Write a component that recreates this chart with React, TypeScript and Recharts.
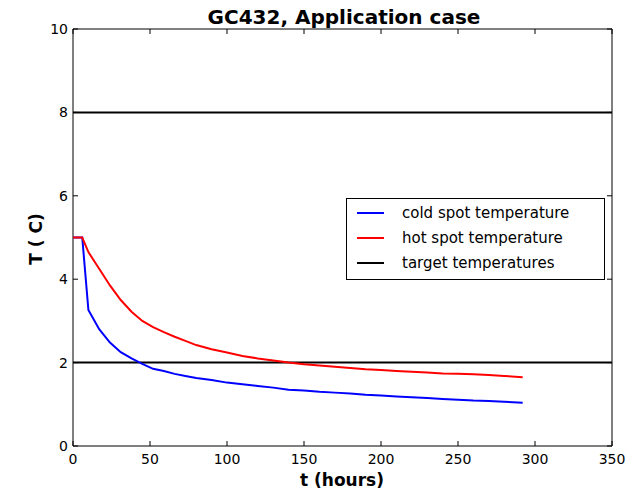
import {
  LineChart,
  Line,
  XAxis,
  YAxis,
  ReferenceLine,
  ReferenceArea,
} from "recharts";

const hours = [
  0, 6, 10, 17, 24, 31, 38, 45, 52, 59, 66, 73, 80, 90, 100, 110, 120, 130, 140,
  150, 160, 170, 180, 190, 200, 210, 220, 230, 240, 250, 260, 270, 280, 292,
];
const coldSpot = [
  5.0, 5.0, 3.26, 2.8, 2.48, 2.25, 2.1, 1.97, 1.85, 1.8, 1.73, 1.68, 1.63, 1.58,
  1.52, 1.48, 1.44, 1.4, 1.35, 1.33, 1.3, 1.28, 1.26, 1.23, 1.21, 1.19, 1.17,
  1.15, 1.13, 1.11, 1.09, 1.08, 1.06, 1.04,
];
const hotSpot = [
  5.0, 5.0, 4.65, 4.25, 3.85, 3.5, 3.22, 3.0, 2.85, 2.73, 2.62, 2.52, 2.42, 2.32,
  2.24, 2.16, 2.1, 2.05, 2.0, 1.96, 1.93, 1.9, 1.87, 1.84, 1.82, 1.8, 1.78, 1.76,
  1.74, 1.73, 1.72, 1.7, 1.68, 1.65,
];
const targets = [2, 8];
const xTicks = [0, 50, 100, 150, 200, 250, 300, 350];
const yTicks = [0, 2, 4, 6, 8, 10];

const legendItems = [
  { label: "cold spot temperature", color: "#0000ff" },
  { label: "hot spot temperature", color: "#ff0000" },
  { label: "target temperatures", color: "#000000" },
];

const FONT = "'DejaVu Sans', sans-serif";
const W = 629;
const H = 491;
const TOP = 29;
const LEFT = 73;
const RIGHT = 612;
const BOTTOM = 446;

const data = hours.map((t, i) => ({ t, cold: coldSpot[i], hot: hotSpot[i] }));

// matplotlib classic: ticks point inward, on all four sides
function XTick(props: any) {
  const { x, payload } = props;
  return (
    <g>
      <line x1={x} y1={BOTTOM} x2={x} y2={BOTTOM - 5} stroke="#000" />
      <line x1={x} y1={TOP} x2={x} y2={TOP + 5} stroke="#000" />
      <text x={x} y={BOTTOM + 18} textAnchor="middle" fontSize={14} fontFamily={FONT} fill="#000">
        {payload.value}
      </text>
    </g>
  );
}

function YTick(props: any) {
  const { y, payload } = props;
  return (
    <g>
      <line x1={LEFT} y1={y} x2={LEFT + 5} y2={y} stroke="#000" />
      <line x1={RIGHT} y1={y} x2={RIGHT - 5} y2={y} stroke="#000" />
      <text x={LEFT - 5} y={y + 5} textAnchor="end" fontSize={14} fontFamily={FONT} fill="#000">
        {payload.value}
      </text>
    </g>
  );
}

function LegendBox() {
  return (
    <div
      style={{
        position: "absolute",
        left: 346,
        top: 198,
        border: "1px solid #000",
        background: "#fff",
        width: 259,
        height: 82,
        boxSizing: "border-box",
        padding: "1px 0 0 10px",
        fontFamily: FONT,
        fontSize: 15,
      }}
    >
      {legendItems.map((it) => (
        <div key={it.label} style={{ display: "flex", alignItems: "center", height: 25 }}>
          <div style={{ width: 27, height: 2, background: it.color, marginRight: 18 }} />
          <span>{it.label}</span>
        </div>
      ))}
    </div>
  );
}

export default function App() {
  return (
    <div style={{ position: "absolute", left: 0, top: 0, width: W, height: H, background: "#fff", overflow: "hidden" }}>
      <LineChart
        width={W}
        height={H}
        data={data}
        margin={{ top: TOP, right: W - RIGHT, bottom: 0, left: LEFT - 50 }}
      >
        <XAxis
          dataKey="t"
          type="number"
          domain={[0, 350]}
          ticks={xTicks}
          height={H - BOTTOM}
          tickLine={false}
          tickSize={0}
          tick={<XTick />}
          axisLine={false}
          interval={0}
        />
        <YAxis
          type="number"
          domain={[0, 10]}
          ticks={yTicks}
          width={50}
          tickLine={false}
          tickSize={0}
          tick={<YTick />}
          axisLine={false}
          interval={0}
        />
        <ReferenceArea x1={0} x2={350} y1={0} y2={10} fill="none" stroke="#000" strokeWidth={1} />
        {targets.map((v) => (
          <ReferenceLine key={v} y={v} stroke="#000" strokeWidth={2} />
        ))}
        <Line dataKey="cold" stroke="#0000ff" strokeWidth={2} dot={false} isAnimationActive={false} />
        <Line dataKey="hot" stroke="#ff0000" strokeWidth={2} dot={false} isAnimationActive={false} />
        <text x={344} y={24} textAnchor="middle" fontSize={20} fontWeight="bold" fontFamily={FONT}>
          GC432, Application case
        </text>
        <text x={342} y={486} textAnchor="middle" fontSize={17} fontWeight="bold" fontFamily={FONT}>
          t (hours)
        </text>
        <text
          x={37}
          y={239}
          textAnchor="middle"
          fontSize={17}
          fontWeight="bold"
          fontFamily={FONT}
          transform="rotate(-90 37 239)"
          dominantBaseline="middle"
        >
          T ( C)
        </text>
      </LineChart>
      <LegendBox />
    </div>
  );
}
